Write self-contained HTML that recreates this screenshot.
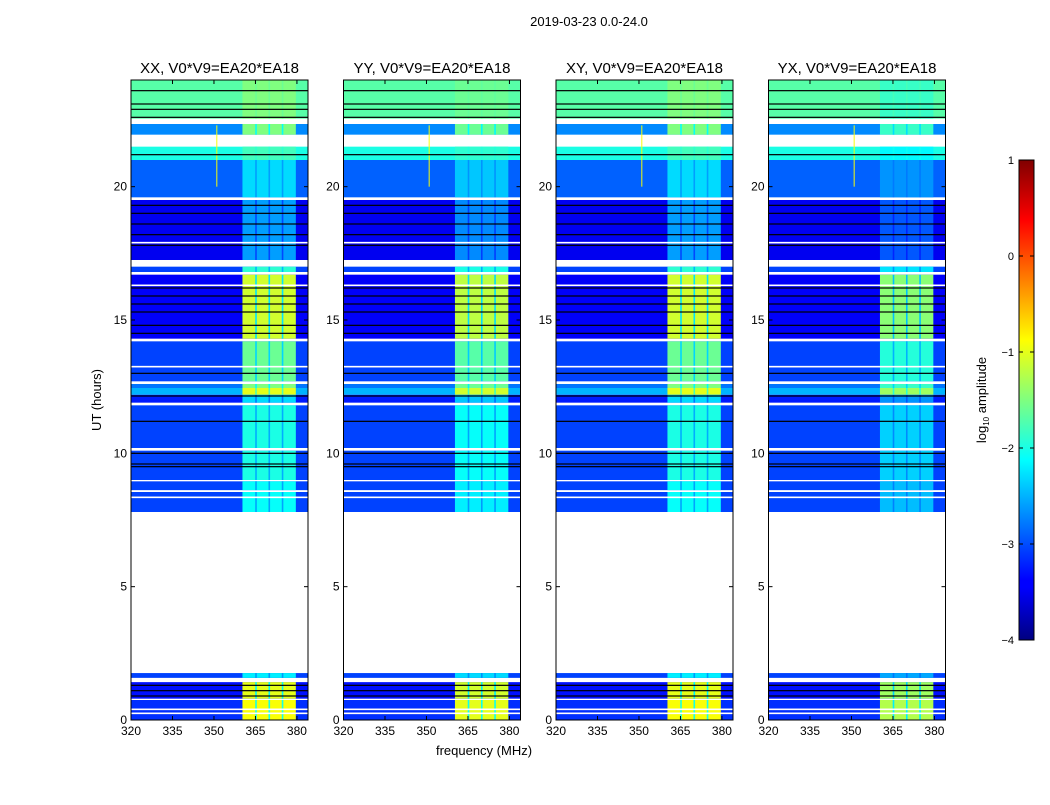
<!DOCTYPE html>
<html><head><meta charset="utf-8"><style>
body{margin:0;background:#fff;}
svg text{font-family:"Liberation Sans","DejaVu Sans",sans-serif;}
</style></head><body>
<svg id="fig" width="1050" height="800" xmlns="http://www.w3.org/2000/svg">
<defs>
<linearGradient id="jetg" x1="0" y1="1" x2="0" y2="0">
<stop offset="0" stop-color="#000080"/><stop offset="0.11" stop-color="#0000ff"/>
<stop offset="0.125" stop-color="#0000ff"/><stop offset="0.375" stop-color="#00ffff"/>
<stop offset="0.625" stop-color="#ffff00"/><stop offset="0.875" stop-color="#ff0000"/>
<stop offset="1" stop-color="#800000"/></linearGradient>
</defs>
<text x="589" y="26" font-size="13" text-anchor="middle">2019-03-23 0.0-24.0</text>
<text transform="translate(101,400) rotate(-90)" font-size="13" text-anchor="middle">UT (hours)</text>
<text x="484" y="755" font-size="13" text-anchor="middle">frequency (MHz)</text>
<g id="panels"></g>
<g id="cbar">
<rect x="1019" y="160" width="15" height="480" fill="url(#jetg)" stroke="#000" stroke-width="1"/>
<text transform="translate(986,400) rotate(-90)" font-size="13" text-anchor="middle">log<tspan font-size="8" dy="3">10</tspan><tspan dy="-3"> amplitude</tspan></text>
</g>
</svg>
<script>
const panelTitles=["XX, V0*V9=EA20*EA18","YY, V0*V9=EA20*EA18","XY, V0*V9=EA20*EA18","YX, V0*V9=EA20*EA18"];
const panelPeakOffset=[0,-0.1,0,-0.35];
const bandStart=[0,0.75,0.8,1.42,1.58,1.76,7.8,8.55,8.62,8.95,9.0,10.1,10.2,11.8,11.9,12.2,12.45,12.6,12.7,14.2,14.3,16.7,16.8,17.0,17.25,19.5,19.6,21.0,21.5,21.95,22.35,22.55];
const bandEnd=[0.75,0.8,1.42,1.58,1.76,7.8,8.55,8.62,8.95,9.0,10.1,10.2,11.8,11.9,12.2,12.45,12.6,12.7,14.2,14.3,16.7,16.8,17.0,17.25,19.5,19.6,21.0,21.5,21.95,22.35,22.55,24];
const bandBase=[-3.15,null,-3.3,null,-3.05,null,-3.05,null,-3.05,null,-3.05,null,-3.05,null,-3.25,-2.5,-2.8,null,-3.05,null,-3.4,null,-3.05,null,-3.45,null,-2.9,-2.0,null,-2.7,null,-1.7];
const bandPeak=[-0.9,null,-1.0,null,-2.2,null,-2.1,null,-2.1,null,-2.0,null,-2.0,null,-2.3,-1.0,-1.5,null,-1.6,null,-1.1,null,-1.9,null,-2.6,null,-2.3,-1.8,null,-1.5,null,-1.5];
const blackLines=[23.6,23.1,22.9,22.6,21.2,19.3,19.0,18.6,18.2,17.8,16.2,15.9,15.6,15.3,14.8,14.5,13.0,12.15,11.2,10.0,9.6,9.5,1.3,1.1,0.9];
const whiteLines=[0.4,0.25,13.25,8.35,17.9,16.3];
const peakFreqStart=360.3, peakFreqEnd=379.6;
const stripeFreqs=[365.2,370,374.8];
const rfiFreq=351, rfiStart=20.0, rfiEnd=22.3, rfiValue=-0.9;
const xTicks=[320,335,350,365,380];
const yTicks=[0,5,10,15,20];
const cbTicks=[1,0,-1,-2,-3,-4];

const NS="http://www.w3.org/2000/svg";
function jet(v){const t=Math.max(0,Math.min(1,(v+4)/5));const c=x=>Math.round(255*Math.max(0,Math.min(1,1.5-Math.abs(4*t-x))));return `rgb(${c(3)},${c(2)},${c(1)})`;}
function mk(tag,attrs,parent){const e=document.createElementNS(NS,tag);for(const k in attrs)e.setAttribute(k,attrs[k]);parent.appendChild(e);return e;}
const plotTop=80,plotBot=720,fmin=320,fmax=384,pw=177;
const yS=h=>plotBot-(h/24)*(plotBot-plotTop);
const panels=document.getElementById('panels');
panelTitles.forEach((title,p)=>{
  const x0=131+p*212.5;
  const xS=f=>x0+(f-fmin)/(fmax-fmin)*pw;
  const g=mk('g',{},panels);
  
  
  for(let i=0;i<bandStart.length;i++){
    if(bandBase[i]===null)continue;
    const y1=yS(bandEnd[i]),y2=yS(bandStart[i]);
    const r=mk('rect',{x:x0,y:y1,width:pw,height:y2-y1,fill:jet(bandBase[i])},g);
    
    
    const pk=mk('rect',{x:xS(peakFreqStart),y:y1,width:xS(peakFreqEnd)-xS(peakFreqStart),height:y2-y1,fill:jet(bandPeak[i]+panelPeakOffset[p])},g);
    
    
    stripeFreqs.forEach(f=>{
      const s=mk('rect',{x:xS(f)-0.8,y:y1,width:1.6,height:y2-y1,fill:jet((bandPeak[i]+panelPeakOffset[p]+bandBase[i])/2)},g);
      
      
    });
  }
  const rf=mk('rect',{x:xS(rfiFreq)-0.7,y:yS(rfiEnd),width:1.4,height:yS(rfiStart)-yS(rfiEnd),fill:jet(rfiValue),opacity:0.7},g);
  
  
  blackLines.forEach(h=>{const l=mk('rect',{x:x0,y:yS(h)-0.6,width:pw,height:1.2,fill:'#000'},g);
    
    });
  whiteLines.forEach(h=>{const l=mk('rect',{x:x0,y:yS(h)-0.8,width:pw,height:1.6,fill:'#fff'},g);
    
    });
  const fr=mk('rect',{x:x0,y:plotTop,width:pw,height:plotBot-plotTop,fill:'none',stroke:'#000','stroke-width':1},g);
  
  
  const t=mk('text',{x:x0+pw/2,y:73,'font-size':15,'text-anchor':'middle'},g);t.textContent=title;
  
  
  xTicks.forEach(f=>{
    mk('line',{x1:xS(f),x2:xS(f),y1:plotBot,y2:plotBot-4,stroke:'#000'},g);
    mk('line',{x1:xS(f),x2:xS(f),y1:plotTop,y2:plotTop+4,stroke:'#000'},g);
    const tx=mk('text',{x:xS(f),y:plotBot+15,'font-size':12,'text-anchor':'middle'},g);tx.textContent=f;
    
    
  });
  yTicks.forEach(h=>{
    mk('line',{x1:x0,x2:x0+4,y1:yS(h),y2:yS(h),stroke:'#000'},g);
    mk('line',{x1:x0+pw,x2:x0+pw-4,y1:yS(h),y2:yS(h),stroke:'#000'},g);
    const ty=mk('text',{x:x0-4,y:yS(h)+4,'font-size':12,'text-anchor':'end'},g);ty.textContent=h;
    
    
  });
});
const cb=document.getElementById('cbar');
cbTicks.forEach(v=>{
  const y=160+(1-v)/5*480;
  mk('line',{x1:1019,x2:1023,y1:y,y2:y,stroke:'#000'},cb);
  mk('line',{x1:1034,x2:1030,y1:y,y2:y,stroke:'#000'},cb);
  const t=mk('text',{x:1014,y:y+4,'font-size':11,'text-anchor':'end'},cb);
  t.textContent=v<0?'\u2212'+(-v):String(v);
  
  
});
</script>
</body></html>
